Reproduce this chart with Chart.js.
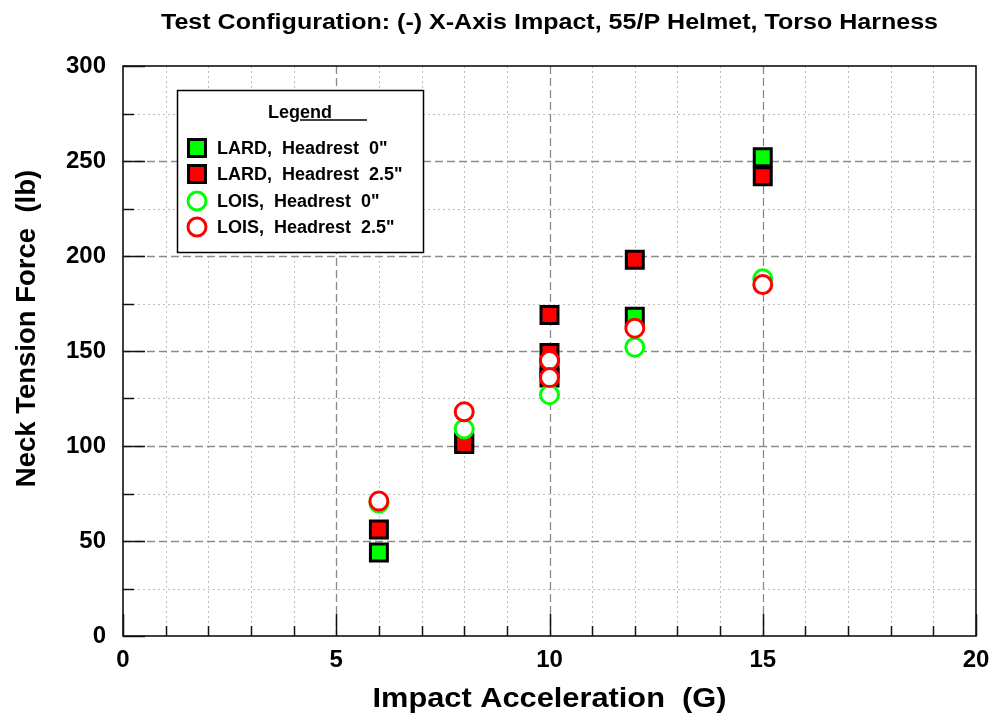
<!DOCTYPE html>
<html><head><meta charset="utf-8">
<script src="https://cdn.jsdelivr.net/npm/chart.js@4/dist/chart.umd.min.js"></script>
<style>html,body{margin:0;padding:0;background:#fff}#wrap{width:995px;height:724px}</style>
</head><body><div id="wrap"><canvas id="c" width="995" height="724"></canvas></div>
<script>
const chartTitle = 'Test Configuration: (-) X-Axis Impact, 55/P Helmet, Torso Harness';
const xAxisTitle = 'Impact Acceleration  (G)';
const yAxisTitle = 'Neck Tension Force  (lb)';
const legendTitle = 'Legend';
const seriesLabels = ['LARD,  Headrest  0"', 'LARD,  Headrest  2.5"', 'LOIS,  Headrest  0"', 'LOIS,  Headrest  2.5"'];
const lardH0X  = [6, 8, 10, 10, 12, 15];
const lardH0Y  = [44, 102, 141, 136, 168, 252];
const lardH25X = [6, 8, 10, 10, 12, 15];
const lardH25Y = [56, 101, 169, 149, 198, 242];
const loisH0X  = [6, 8, 10, 12, 15];
const loisH0Y  = [70, 109, 127, 152, 188];
const loisH25X = [6, 8, 10, 10, 12, 15];
const loisH25Y = [71, 118, 145, 136, 162, 185];
const xTickValues = [0, 5, 10, 15, 20];
const yTickValues = [0, 50, 100, 150, 200, 250, 300];
const xMinorStep = 1;
const yMinorStep = 25;

const FONT = "Arial, 'Liberation Sans', sans-serif";
const pts = (xs, ys) => xs.map((x, i) => ({x: x, y: ys[i]}));

const seriesStyles = [
  {pointStyle: 'rect', pointRadius: 12, backgroundColor: '#00ff00', borderColor: '#000000', borderWidth: 3, order: 3},
  {pointStyle: 'rect', pointRadius: 12, backgroundColor: '#ff0000', borderColor: '#000000', borderWidth: 3, order: 2},
  {pointStyle: 'circle', pointRadius: 9, backgroundColor: '#ffffff', borderColor: '#00ff00', borderWidth: 3, order: 1},
  {pointStyle: 'circle', pointRadius: 9, backgroundColor: '#ffffff', borderColor: '#ff0000', borderWidth: 3, order: 0}
];
const seriesData = [pts(lardH0X, lardH0Y), pts(lardH25X, lardH25Y), pts(loisH0X, loisH0Y), pts(loisH25X, loisH25Y)];

const datasets = seriesLabels.map((lab, i) => {
  const s = seriesStyles[i];
  return {
    label: lab, data: seriesData[i], showLine: false,
    pointStyle: s.pointStyle, pointRadius: s.pointRadius, pointHoverRadius: s.pointRadius,
    pointBackgroundColor: s.backgroundColor, pointBorderColor: s.borderColor, pointBorderWidth: s.borderWidth,
    backgroundColor: s.backgroundColor, borderColor: s.borderColor, order: s.order
  };
});

function stretchedText(ctx, text, x, y, targetWidth) {
  const w = ctx.measureText(text).width;
  ctx.save(); ctx.translate(x, y); ctx.scale(targetWidth / w, 1);
  ctx.textAlign = 'center'; ctx.fillText(text, 0, 0); ctx.restore();
}

const gridPlugin = {
  id: 'gridFrame',
  beforeDatasetsDraw(chart) {
    const ctx = chart.ctx, a = chart.chartArea;
    const xs = chart.scales.x, ys = chart.scales.y;
    ctx.save();
    ctx.strokeStyle = '#bdbdbd'; ctx.lineWidth = 1; ctx.setLineDash([2, 3]);
    for (let v = xs.min + xMinorStep; v < xs.max; v += xMinorStep) {
      if (xTickValues.includes(v)) continue;
      const px = Math.round(xs.getPixelForValue(v)) + 0.5;
      ctx.beginPath(); ctx.moveTo(px, a.top); ctx.lineTo(px, a.bottom); ctx.stroke();
    }
    for (let v = ys.min + yMinorStep; v < ys.max; v += yMinorStep) {
      if (yTickValues.includes(v)) continue;
      const py = Math.round(ys.getPixelForValue(v)) + 0.5;
      ctx.beginPath(); ctx.moveTo(a.left, py); ctx.lineTo(a.right, py); ctx.stroke();
    }
    ctx.strokeStyle = '#8a8a8a'; ctx.lineWidth = 1.3; ctx.setLineDash([8, 4]);
    xTickValues.forEach(v => {
      if (v <= xs.min || v >= xs.max) return;
      const px = Math.round(xs.getPixelForValue(v)) + 0.5;
      ctx.beginPath(); ctx.moveTo(px, a.top); ctx.lineTo(px, a.bottom); ctx.stroke();
    });
    yTickValues.forEach(v => {
      if (v <= ys.min || v >= ys.max) return;
      const py = Math.round(ys.getPixelForValue(v)) + 0.5;
      ctx.beginPath(); ctx.moveTo(a.left, py); ctx.lineTo(a.right, py); ctx.stroke();
    });
    ctx.setLineDash([]); ctx.strokeStyle = '#111'; ctx.lineWidth = 1.5;
    for (let v = xs.min; v <= xs.max; v += xMinorStep) {
      const px = Math.round(xs.getPixelForValue(v)) + 0.5;
      const len = xTickValues.includes(v) ? 22 : 10;
      ctx.beginPath(); ctx.moveTo(px, a.bottom); ctx.lineTo(px, a.bottom - len); ctx.stroke();
    }
    for (let v = ys.min; v <= ys.max; v += yMinorStep) {
      const py = Math.round(ys.getPixelForValue(v)) + 0.5;
      const len = yTickValues.includes(v) ? 22 : 11;
      ctx.beginPath(); ctx.moveTo(a.left, py); ctx.lineTo(a.left + len, py); ctx.stroke();
    }
    ctx.strokeStyle = '#111'; ctx.lineWidth = 1.6;
    ctx.strokeRect(a.left, a.top, a.right - a.left, a.bottom - a.top);
    ctx.restore();
  },
  afterDatasetsDraw(chart) {
    const ctx = chart.ctx, a = chart.chartArea;
    const bx = a.left + 54, by = a.top + 24, bw = 246, bh = 162;
    ctx.save();
    ctx.fillStyle = '#fff'; ctx.fillRect(bx, by, bw, bh);
    ctx.strokeStyle = '#000'; ctx.lineWidth = 1.5; ctx.strokeRect(bx + 0.5, by + 0.5, bw, bh);
    ctx.fillStyle = '#000'; ctx.font = 'bold 18px ' + FONT; ctx.textBaseline = 'alphabetic'; ctx.textAlign = 'left';
    const tx = bx + 91, ty = by + 28;
    ctx.fillText(legendTitle, tx, ty);
    const legW = ctx.measureText('Leg').width;
    ctx.lineWidth = 1.5; ctx.beginPath(); ctx.moveTo(tx + legW, ty + 2); ctx.lineTo(tx + legW + 67, ty + 2); ctx.stroke();
    const rows = [58, 84, 111, 137];
    ctx.textBaseline = 'middle';
    seriesLabels.forEach((lab, i) => {
      const s = seriesStyles[i];
      const cx = bx + 20, cy = by + rows[i];
      ctx.fillStyle = s.backgroundColor; ctx.strokeStyle = s.borderColor; ctx.lineWidth = s.borderWidth;
      ctx.beginPath();
      if (s.pointStyle === 'rect') {
        const h = Math.SQRT1_2 * s.pointRadius;
        ctx.rect(cx - h, cy - h, 2 * h, 2 * h);
      } else {
        ctx.arc(cx, cy, s.pointRadius, 0, Math.PI * 2);
      }
      ctx.fill(); ctx.stroke();
      ctx.fillStyle = '#000';
      ctx.fillText(lab, bx + 40, cy + 1);
    });
    ctx.restore();
  },
  afterDraw(chart) {
    const ctx = chart.ctx, a = chart.chartArea;
    const cx = (a.left + a.right) / 2;
    ctx.save();
    ctx.fillStyle = '#000'; ctx.textBaseline = 'alphabetic';
    ctx.font = 'bold 22px ' + FONT;
    stretchedText(ctx, chartTitle, cx, 29, 777);
    ctx.font = 'bold 28px ' + FONT;
    stretchedText(ctx, xAxisTitle, cx, 707, 354);
    ctx.translate(35, 328.5); ctx.rotate(-Math.PI / 2);
    ctx.font = 'bold 27.5px ' + FONT; ctx.textAlign = 'center';
    ctx.fillText(yAxisTitle, 0, 0);
    ctx.restore();
  }
};

new Chart(document.getElementById('c'), {
  type: 'scatter',
  data: {datasets: datasets},
  plugins: [gridPlugin],
  options: {
    responsive: false, animation: false, devicePixelRatio: 1,
    layout: {padding: {left: 0, right: 19, top: 66, bottom: 0}},
    plugins: {legend: {display: false}, tooltip: {enabled: false}, title: {display: false}},
    scales: {
      x: {type: 'linear', min: 0, max: 20,
        afterFit(s) { s.height = 88; s.paddingLeft = 0; s.paddingRight = 0; },
        ticks: {stepSize: 5, color: '#000', padding: 10, font: {family: FONT, size: 24, weight: 'bold'}, maxRotation: 0},
        grid: {display: false, drawTicks: false}, border: {display: false},
        title: {display: false}
      },
      y: {type: 'linear', min: 0, max: 300,
        afterFit(s) { s.width = 123; s.paddingTop = 0; s.paddingBottom = 0; },
        ticks: {stepSize: 50, color: '#000', padding: 17, font: {family: FONT, size: 24, weight: 'bold'}},
        grid: {display: false, drawTicks: false}, border: {display: false},
        title: {display: false}
      }
    }
  }
});
</script>
</body></html>
